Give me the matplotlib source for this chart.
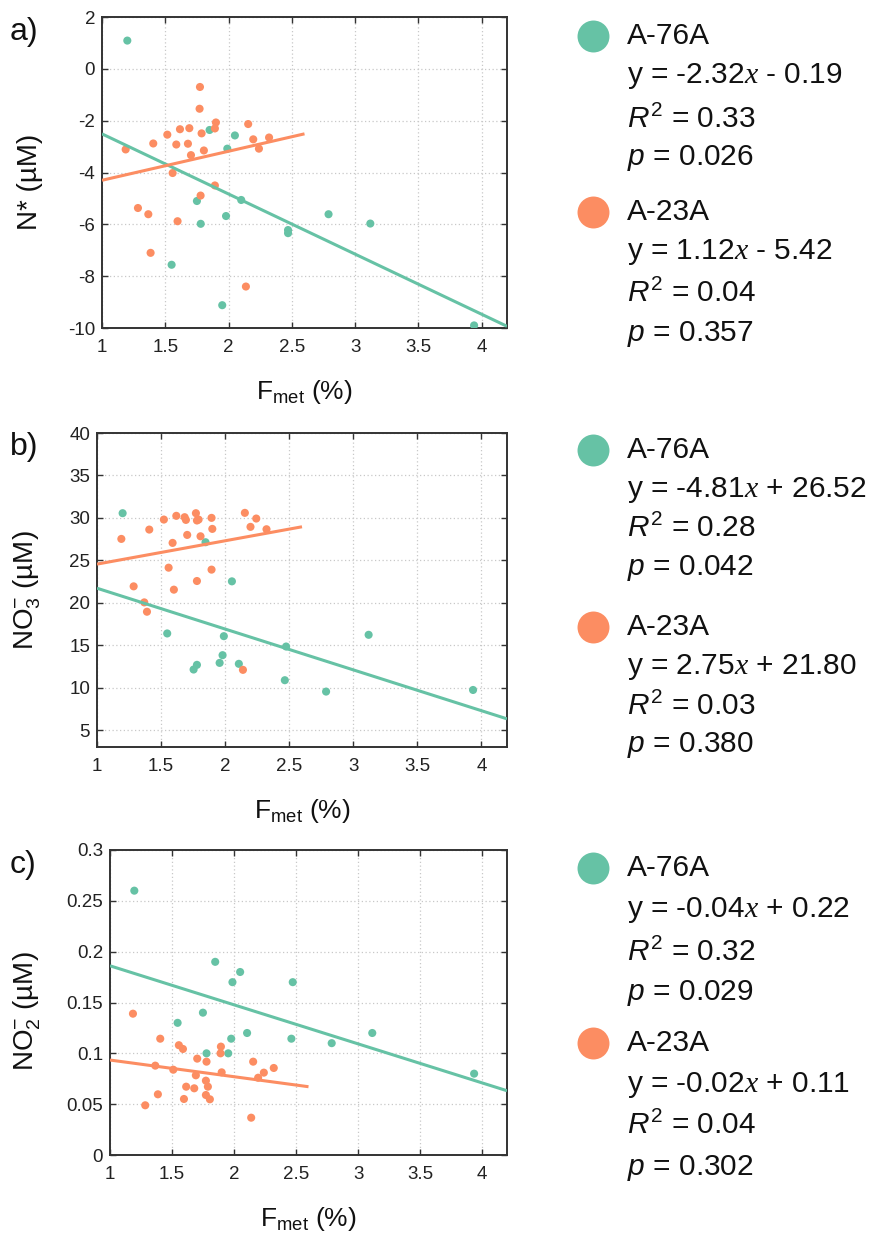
import matplotlib
matplotlib.use("Agg")
import matplotlib.pyplot as plt
import numpy as np

plt.rcParams['font.family'] = ['Liberation Sans', 'DejaVu Sans']
plt.rcParams['mathtext.fontset'] = 'custom'
plt.rcParams['mathtext.rm'] = 'Liberation Sans'
plt.rcParams['mathtext.it'] = 'Liberation Sans:italic'
plt.rcParams['mathtext.cal'] = 'Liberation Serif:italic'
plt.rcParams['axes.unicode_minus'] = False

# ---------------- data ----------------
series_names = ["A-76A", "A-23A"]
colors = ["#66c2a5", "#fc8d62"]

# Panel a: N* (uM)
a_green_x = [1.20, 1.85, 2.05, 1.99, 2.10, 1.75, 1.98, 1.78, 2.79, 3.12, 2.47, 2.47, 1.55, 1.95, 3.94]
a_green_y = [1.09, -2.36, -2.57, -3.08, -5.06, -5.10, -5.68, -5.98, -5.61, -5.97, -6.22, -6.34, -7.56, -9.12, -9.90]
a_orange_x = [1.774, 1.771, 1.90, 1.892, 1.616, 1.69, 2.155, 1.516, 1.787, 1.405, 1.587, 1.679, 2.195,
              2.32, 2.24, 1.187, 1.703, 1.805, 1.558, 1.892, 1.779, 1.284, 1.366, 1.597, 1.384, 2.137]
a_orange_y = [-0.70, -1.54, -2.07, -2.30, -2.33, -2.29, -2.13, -2.54, -2.49, -2.88, -2.92, -2.89, -2.72,
              -2.65, -3.08, -3.11, -3.33, -3.15, -4.02, -4.50, -4.89, -5.37, -5.61, -5.88, -7.10, -8.40]

# Panel b: NO3- (uM)
b_green_x = [1.20, 1.847, 2.053, 1.548, 1.99, 3.12, 2.476, 1.98, 1.957, 2.107, 1.78, 1.754, 2.466, 2.788, 3.935]
b_green_y = [30.55, 27.13, 22.52, 16.38, 16.06, 16.22, 14.84, 13.82, 12.91, 12.80, 12.68, 12.13, 10.87, 9.53, 9.72]
b_orange_x = [2.154, 1.772, 1.619, 1.684, 1.694, 1.78, 1.793, 1.894, 2.243, 1.522, 1.408, 1.90, 2.198,
              2.323, 1.19, 1.704, 1.808, 1.59, 1.559, 1.894, 1.78, 1.286, 1.60, 1.369, 1.39, 2.139]
b_orange_y = [30.59, 30.55, 30.24, 30.08, 29.76, 29.69, 29.80, 30.00, 29.92, 29.80, 28.62, 28.70, 28.94,
              28.66, 27.52, 27.99, 27.83, 27.05, 24.13, 23.90, 22.56, 21.93, 21.54, 20.04, 18.94, 12.09]

# Panel c: NO2- (uM)
c_green_x = [1.196, 1.848, 2.049, 1.987, 2.473, 1.749, 1.545, 2.105, 3.114, 1.977, 2.462, 2.787, 1.778, 1.953, 3.935]
c_green_y = [0.26, 0.19, 0.18, 0.17, 0.17, 0.14, 0.13, 0.12, 0.12, 0.1144, 0.1144, 0.11, 0.10, 0.10, 0.08]
c_orange_x = [1.185, 1.405, 1.555, 1.588, 1.894, 1.891, 1.703, 1.778, 2.154, 1.365, 2.32, 1.51, 1.90,
              2.24, 1.692, 2.194, 1.773, 1.614, 1.789, 1.679, 1.386, 1.773, 1.596, 1.805, 1.284, 2.138]
c_orange_y = [0.139, 0.1144, 0.108, 0.1043, 0.1066, 0.100, 0.0948, 0.0918, 0.0918, 0.0879, 0.0856, 0.0839,
              0.0813, 0.081, 0.0784, 0.076, 0.0731, 0.0672, 0.0672, 0.0656, 0.0597, 0.059, 0.0551, 0.0548,
              0.0489, 0.0367]

# regression lines (slope, intercept) and x-extent
a_fit = [(-2.32, -0.19), (1.12, -5.42)]
b_fit = [(-4.81, 26.52), (2.75, 21.80)]
c_fit = [(-0.0384, 0.2245), (-0.0164, 0.1098)]
fit_xrange = [(1.0, 4.2), (1.0, 2.6)]

# statistics text
a_stats = [("-2.32", "- 0.19", "0.33", "0.026"), ("1.12", "- 5.42", "0.04", "0.357")]
b_stats = [("-4.81", "+ 26.52", "0.28", "0.042"), ("2.75", "+ 21.80", "0.03", "0.380")]
c_stats = [("-0.04", "+ 0.22", "0.32", "0.029"), ("-0.02", "+ 0.11", "0.04", "0.302")]

panel_labels = ["a)", "b)", "c)"]
ylabels = ["N* (µM)", r"NO$_3^{-}$ (µM)", r"NO$_2^{-}$ (µM)"]
xlabel = r"F$_{\mathrm{met}}$ (%)"
xticks = [1, 1.5, 2, 2.5, 3, 3.5, 4]
xticklabels = ["1", "1.5", "2", "2.5", "3", "3.5", "4"]
a_yticks = [-10, -8, -6, -4, -2, 0, 2]
b_yticks = [5, 10, 15, 20, 25, 30, 35, 40]
c_yticks = [0, 0.05, 0.1, 0.15, 0.2, 0.25, 0.3]
c_yticklabels = ["0", "0.05", "0.1", "0.15", "0.2", "0.25", "0.3"]
ylims = [(-10, 2), (3, 40), (0, 0.3)]

# ---------------- figure ----------------
W, H = 877, 1233
fig = plt.figure(figsize=(W / 100, H / 100), dpi=100)

# axes boxes in pixels: left, top, right, bottom
boxes = [(102, 17, 507, 328), (97, 433, 507, 747), (110, 850, 507, 1155)]
ylabel_ypos = [0.47, 0.5, 0.47]

panels = [
    (a_green_x, a_green_y, a_orange_x, a_orange_y, a_fit, a_yticks, [str(t) for t in a_yticks], a_stats),
    (b_green_x, b_green_y, b_orange_x, b_orange_y, b_fit, b_yticks, [str(t) for t in b_yticks], b_stats),
    (c_green_x, c_green_y, c_orange_x, c_orange_y, c_fit, c_yticks, c_yticklabels, c_stats),
]

spine_col = "#333333"
txt_col = "#111111"

for i, (gx, gy, ox, oy, fits, yt, ytl, stats) in enumerate(panels):
    l, t, r, b = boxes[i]
    ax = fig.add_axes([l / W, 1 - b / H, (r - l) / W, (b - t) / H])
    ax.scatter(gx, gy, s=34, color=colors[0], edgecolors='none', zorder=3)
    ax.scatter(ox, oy, s=34, color=colors[1], edgecolors='none', zorder=3)
    for k, (m, c0) in enumerate(fits):
        xs = np.array(fit_xrange[k])
        ax.plot(xs, m * xs + c0, color=colors[k], lw=2.2, zorder=4, solid_capstyle='butt')
    ax.set_xlim(1, 4.2)
    ax.set_ylim(*ylims[i])
    ax.set_xticks(xticks)
    ax.set_xticklabels(xticklabels)
    ax.set_yticks(yt)
    ax.set_yticklabels(ytl)
    ax.grid(True, linestyle=(0, (1, 2)), color="#c8c8c8", lw=0.9, zorder=0)
    ax.set_axisbelow(True)
    ax.tick_params(direction='in', top=True, right=True, length=4, width=1.0,
                   colors=spine_col, labelcolor='#222222', labelsize=13.5)
    ax.tick_params(axis='x', pad=8)
    ax.tick_params(axis='y', pad=5)
    for sp in ax.spines.values():
        sp.set_color(spine_col)
        sp.set_linewidth(1.4)
    ax.set_xlabel(xlabel, fontsize=19, labelpad=16, color=txt_col)
    ax.set_ylabel(ylabels[i], fontsize=20, color=txt_col)
    ax.yaxis.set_label_coords(-(l - 43) / (r - l), ylabel_ypos[i])

# overlay for panel letters and statistics text
ov = fig.add_axes([0, 0, 1, 1])
ov.set_xlim(0, W)
ov.set_ylim(H, 0)
ov.axis('off')

label_y = [32, 447, 865]
for i in range(3):
    ov.text(10, label_y[i], panel_labels[i], fontsize=23, va='center', ha='left', color=txt_col)

legend_rows = [
    [36, 76, 119, 158, 212, 252, 293, 334],
    [450, 490, 528, 568, 627, 667, 706, 745],
    [868, 910, 952, 993, 1043, 1085, 1125, 1168],
]
txt_x = 627
fs = 21.5
for i in range(3):
    stats = panels[i][7]
    rows = legend_rows[i]
    for k in range(2):
        slope, icpt, r2, p = stats[k]
        y0 = rows[4 * k]
        ov.plot(593, y0, 'o', ms=23, color=colors[k], mec='none')
        ov.text(txt_x, y0, series_names[k], fontsize=fs, va='center', ha='left', color=txt_col)
        ov.text(txt_x, rows[4 * k + 1], "y = " + slope + r"$\mathcal{x}$ " + icpt,
                fontsize=fs, va='center', ha='left', color=txt_col)
        ov.text(txt_x, rows[4 * k + 2], r"$\mathit{R}^{2}$ = " + r2,
                fontsize=fs, va='center', ha='left', color=txt_col)
        ov.text(txt_x, rows[4 * k + 3], r"$\mathit{p}$ = " + p,
                fontsize=fs, va='center', ha='left', color=txt_col)

fig.savefig("out.png", dpi=100)
